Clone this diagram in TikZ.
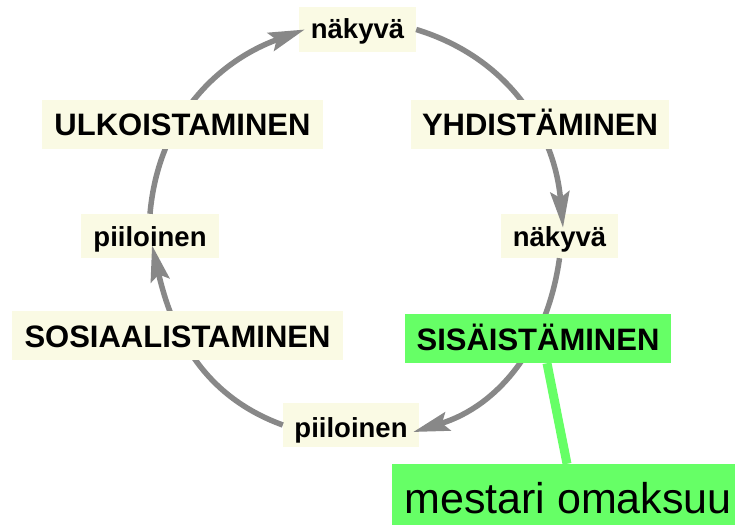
\documentclass[tikz,border=0pt]{standalone}
\usepackage{fontspec}
\setmainfont{Liberation Sans}
\usetikzlibrary{arrows.meta}
\definecolor{beige}{RGB}{250,250,228}
\definecolor{lgreen}{RGB}{102,255,102}
\definecolor{edgegray}{RGB}{136,136,136}
\pgfdeclarelayer{bg}
\pgfdeclarelayer{edges}
\pgfsetlayers{bg,edges,main}
\begin{document}
\begin{tikzpicture}[x=1pt,y=1pt,
  bigbox/.style={anchor=base, inner sep=0pt, fill=beige, text depth=13pt, text height=36pt,
    font=\fontsize{31}{31}\selectfont\bfseries},
  smallbox/.style={anchor=base, inner sep=0pt,
    font=\fontsize{27.5}{27.5}\selectfont\bfseries},
  conn/.style={draw=edgegray, line width=5.5pt,
    -{Stealth[length=36pt,width=19pt,inset=6pt]}}
]
\useasboundingbox (0,0) rectangle (735,-526);

% small nodes (fills on background layer)
\node[smallbox, minimum width=117pt, text height=32pt, text depth=13pt] (tn) at (357.5,-39) {näkyvä};
\node[smallbox, minimum width=138pt, text height=33pt, text depth=11pt] (lp) at (150,-247) {piiloinen};
\node[smallbox, minimum width=117pt, text height=33pt, text depth=11pt] (rn) at (559.5,-247) {näkyvä};
\node[smallbox, minimum width=136pt, text height=34pt, text depth=10pt] (pb) at (351,-437) {piiloinen};

\begin{pgfonlayer}{bg}
  \foreach \n in {tn,lp,rn,pb} \fill[beige] (\n.south west) rectangle (\n.north east);
\end{pgfonlayer}

% big nodes
\node[bigbox, minimum width=281pt] (ulk) at (182.5,-136) {ULKOISTAMINEN};
\node[bigbox, minimum width=258pt] (yhd) at (540,-136) {YHDISTÄMINEN};
\node[bigbox, minimum width=331pt] (sos) at (177.5,-347) {SOSIAALISTAMINEN};
\node[bigbox, minimum width=266pt, fill=lgreen] (sis) at (538,-350) {SISÄISTÄMINEN};
\node[anchor=base, inner sep=0pt, minimum width=352pt, text height=49pt, text depth=12pt,
  fill=lgreen, font=\fontsize{43}{43}\selectfont] (mest) at (568,-513) {mestari omaksuu};

\begin{pgfonlayer}{edges}
  \draw[conn] (pb.west) to[out=160,in=283] ([shift={(2,13)}]lp.south);
  \draw[conn] (lp.north) to[out=85,in=200] ([xshift=6]tn.west);
  \draw[conn] (tn.east) to[out=-17,in=95] ([shift={(3.5,-14)}]rn.north);
  \draw[conn] (rn.south) to[out=-98,in=17] ([shift={(-6,-7)}]pb.east);
  \draw[lgreen, line width=9pt] ([xshift=9]sis.south) -- ([xshift=-1]mest.north);
\end{pgfonlayer}
\end{tikzpicture}
\end{document}
